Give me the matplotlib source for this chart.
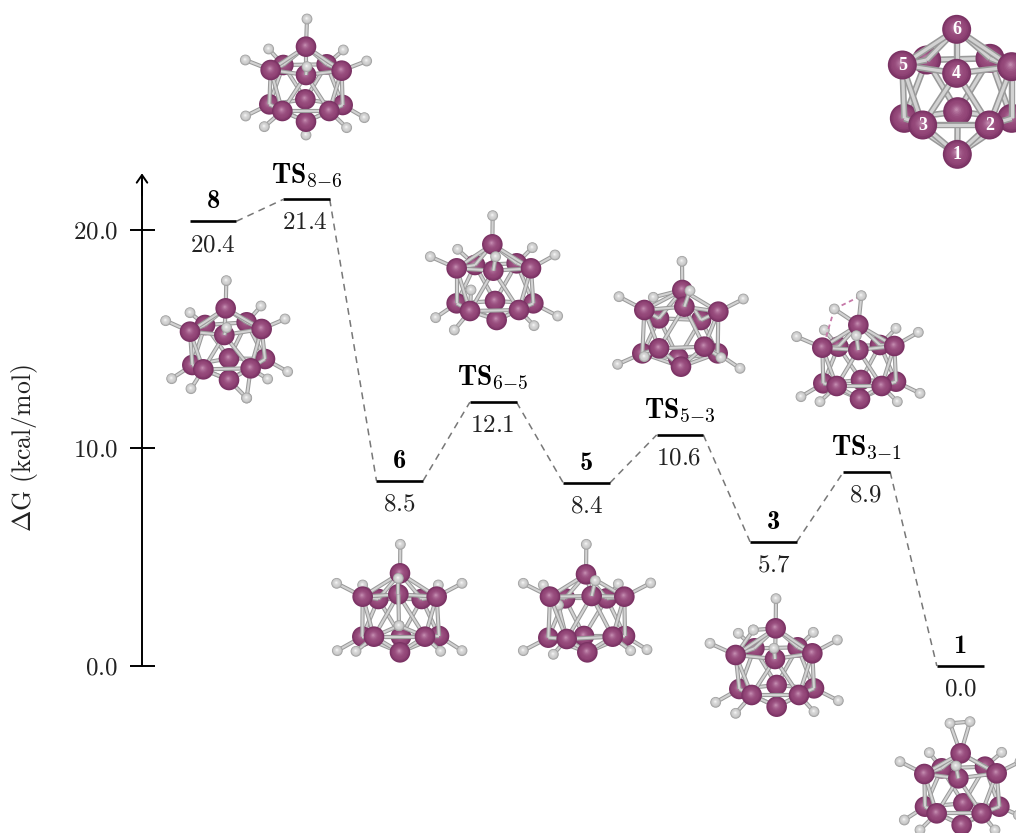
import matplotlib
matplotlib.use('Agg')
import matplotlib.pyplot as plt
from matplotlib.patches import Circle
from matplotlib.colors import to_rgb

plt.rcParams['mathtext.fontset'] = 'cm'
plt.rcParams['font.family'] = ['cmr10', 'DejaVu Serif']
plt.rcParams['axes.unicode_minus'] = False
plt.rcParams['axes.formatter.use_mathtext'] = True

# ---- energy profile data ----
stage_names = ['8', r'$\mathbf{TS}_{8{-}6}$', '6', r'$\mathbf{TS}_{6{-}5}$', '5',
               r'$\mathbf{TS}_{5{-}3}$', '3', r'$\mathbf{TS}_{3{-}1}$', '1']
stage_energy = [20.4, 21.4, 8.5, 12.1, 8.4, 10.6, 5.7, 8.9, 0.0]
tick_values = [0.0, 10.0, 20.0]
tick_labels = ['$0.0$', '$10.0$', '$20.0$']

# ---- molecule sketches: (origin in picture, zoom factor 3 coordinates) ----
# order of cage atoms: T UL UBL UBR UR F LBL LFL CB LFR LBR Bot
T, UL, UBL, UBR, UR, F, LBL, LFL, CB, LFR, LBR, BOT = range(12)
cage_bonds = [(T, UL), (T, UBL), (T, UBR), (T, UR), (T, F), (F, UL), (UL, UBL), (UBL, UBR), (UBR, UR), (UR, F),
              (BOT, LFL), (BOT, LBL), (BOT, CB), (BOT, LBR), (BOT, LFR), (LFL, LBL), (LBL, CB), (CB, LBR),
              (LBR, LFR), (LFR, LFL), (F, LFL), (F, LFR), (UL, LFL), (UL, LBL), (UBL, LBL), (UBL, CB),
              (UBR, CB), (UBR, LBR), (UR, LBR), (UR, LFR)]
cage_depth = [5, 5, 2, 2, 5, 6, 2, 5, 3, 5, 2, 4.5]

mol_ts86 = dict(origin=(230, 5),
    B=[(228,125),(122,195),(160,180),(290,178),(335,197),(228,210),(118,298),(157,318),(226,283),(298,318),(338,300),(228,350)],
    H=[(231,42,T),(46,165,UL),(116,132,UBL),(340,135,UBR),(410,168,UR),(231,185,F),(47,333,LBL),(103,365,LFL),
       (350,368,LFR),(403,338,LBR),(228,390,BOT)])
mol_8 = dict(origin=(130, 160),
    B=[(287,445),(180,515),(225,495),(350,487),(395,507),(283,525),(187,615),(220,628),(297,595),(362,625),(405,597),(297,660)],
    H=[(289,362,T),(107,482,UL),(180,458,UBL),(393,438,UBR),(465,477,UR),(290,503,F),(125,656,LBL),(183,686,LFL),
       (413,657,LFR),(473,635,LBR),(350,714,BOT),(350,714,LFR)])
mol_ts65 = dict(origin=(415, 205),
    B=[(232,118),(125,190),(180,180),(305,175),(348,190),(235,197),(125,295),(165,318),(240,288),(312,315),(355,295),(245,345)],
    H=[(233,32,T),(46,155,UL),(128,133,UBL),(352,128,UBR),(420,150,UR),(242,155,F),(62,338,LBL),(118,375,LFL),
       (357,362,LFR),(428,333,LBR),(168,255,LFL)])
mol_ts53 = dict(origin=(605, 250),
    B=[(232,120),(118,180),(162,205),(288,210),(340,185),(238,170),(112,310),(162,295),(220,325),(298,290),(338,310),(228,350)],
    H=[(231,34,T),(42,140,UL),(145,142,T),(415,147,UR),(255,122,F),(38,343,LBL),(118,320,LFL),(348,323,LFR),(405,355,LBR)])
mol_ts31 = dict(origin=(785, 285),
    B=[(220,120),(112,188),(160,185),(285,180),(328,183),(220,195),(115,295),(155,303),(228,285),(290,303),(333,290),(225,342)],
    H=[(229,32,T),(148,72,T),(35,155,UL),(118,135,UBL),(333,130,UBR),(400,142,UR),(214,152,F),(48,335,LBL),
       (105,350,LFL),(337,350,LFR),(405,325,LBR)],
    dashed=[((148,72),(229,32)),((148,72),(122,160))])
mol_6 = dict(origin=(325, 535),
    B=[(225,115),(113,185),(160,192),(290,192),(335,185),(220,178),(112,305),(147,305),(228,305),(300,305),(342,303),(225,352)],
    H=[(226,28,T),(35,145,UL),(113,150,UBL),(340,150,UBR),(411,145,UR),(220,130,F),(37,347,LBL),(93,349,LFL),
       (222,272,F),(222,272,LFL),(222,272,LFR),(347,349,LFR),(411,347,LBR)])
mol_5 = dict(origin=(510, 535),
    B=[(228,118),(120,185),(165,190),(290,190),(343,185),(245,183),(115,308),(170,312),(222,303),(308,305),(345,303),(232,352)],
    H=[(229,28,T),(40,145,UL),(100,150,UBL),(325,147,UBR),(422,144,UR),(256,137,F),(40,347,LBL),(130,358,LFL),
       (145,210,UL),(145,210,LFL),(362,347,LFR),(411,344,LBR)])
mol_3 = dict(origin=(695, 590),
    B=[(242,115),(122,195),(178,175),(308,172),(352,190),(240,207),(133,297),(170,315),(245,285),(312,315),(357,295),(245,350)],
    H=[(243,26,T),(175,120,T),(175,120,UL),(45,160,UL),(130,130,UBL),(355,127,UBR),(427,150,UR),(237,175,F),
       (62,337,LBL),(122,370,LFL),(357,365,LFR),(430,332,LBR)])
mol_1 = dict(origin=(880, 630),
    B=[(242,370),(133,432),(185,415),(315,410),(350,430),(235,445),(135,530),(170,550),(250,520),(305,550),(358,530),(245,585)],
    H=[(210,280,T),(270,275,T),(60,395,UL),(148,368,UBL),(365,367,UBR),(420,395,UR),(228,408,F),(73,570,LBL),
       (120,600,LFL),(345,600,LFR),(415,555,LBR)],
    hbond=[((210,280),(270,275))])
mol_ref = dict(origin=(870, 10), big=True,
    B=[(260,58),(97,165),(170,150),(360,145),(425,170),(260,190),(103,325),(158,345),(263,305),(358,345),(425,325),(262,433)],
    H=[], labels={T: '6', UL: '5', F: '4', LFL: '3', LFR: '2', BOT: '1'})
molecules = [mol_ts86, mol_8, mol_ts65, mol_ts53, mol_ts31, mol_6, mol_5, mol_3, mol_1, mol_ref]

fig = plt.figure(figsize=(10.16, 8.33), dpi=100)
ax = fig.add_axes([0, 0, 1, 1], facecolor='none')
ax.set_xlim((0 - 213) / 93.4, (1016 - 213) / 93.4)
ax.set_ylim((666 - 833) / 21.8, 666 / 21.8)
axis_x = (142 - 213) / 93.4
for s in ('top', 'right', 'bottom'):
    ax.spines[s].set_visible(False)
ax.spines['left'].set_position(('data', axis_x))
ax.spines['left'].set_bounds(0, 22.4)
ax.spines['left'].set_linewidth(1.4)
ax.set_xticks([])
ax.set_yticks(tick_values)
ax.set_yticklabels(tick_labels, fontsize=18, color='#222222')
ax.tick_params(axis='y', direction='inout', length=18, width=1.4, pad=8)
ax.annotate('', xy=(axis_x, 22.6), xytext=(axis_x, 21.6),
            arrowprops=dict(arrowstyle='->,head_length=0.55,head_width=0.38', lw=1.4, color='black', shrinkA=0, shrinkB=0))
fig.text(25 / 1016, 1 - 448 / 833, r'$\Delta\mathrm{G}\ \mathrm{(kcal/mol)}$', rotation=90,
         ha='center', va='center', fontsize=18.5, color='#222222')

half = 0.25
for i, (name, e) in enumerate(zip(stage_names, stage_energy)):
    ax.plot([i - half, i + half], [e, e], color='black', lw=1.9, solid_capstyle='butt', zorder=3)
    is_ts = name.startswith('$')
    ax.annotate(name, (i, e), xytext=(0, 12 if is_ts else 9.5), textcoords='offset points', ha='center',
                va='baseline', fontsize=20 if is_ts else 19, color='black',
                family='cmr10' if is_ts else 'cmb10')
    ax.annotate(f'${e:.1f}$', (i, e), xytext=(-1 if is_ts else 0, -21.6), textcoords='offset points', ha='center',
                va='baseline', fontsize=18, color='#222222')
for i in range(len(stage_energy) - 1):
    ax.plot([i + half, i + 1 - half], [stage_energy[i], stage_energy[i + 1]], color='#777777', lw=1.1,
            dashes=(4.5, 3.5), zorder=2)

# ---- molecule overlay in picture pixels ----
ov = fig.add_axes([0, 0, 1, 1], facecolor='none')
ov.set_xlim(0, 1016)
ov.set_ylim(833, 0)
ov.axis('off')


def mix(a, b, t):
    a, b = to_rgb(a), to_rgb(b)
    return tuple(x + (y - x) * t for x, y in zip(a, b))


def ball(x, y, r, z, edge, mid, light):
    n = 10
    for k in range(n):
        t = k / (n - 1)
        col = mix(edge, mid, t / 0.3) if t < 0.3 else mix(mid, light, ((t - 0.3) / 0.7) ** 2)
        ov.add_patch(Circle((x - 0.08 * r * t, y - 0.14 * r * t), r * (1 - 0.9 * t), lw=0, fc=col, zorder=z + k * 1e-3))


def stick(p, q, w, z):
    ov.plot([p[0], q[0]], [p[1], q[1]], color='#9a9a9a', lw=w, solid_capstyle='butt', zorder=z)
    ov.plot([p[0], q[0]], [p[1], q[1]], color='#d2d2d2', lw=w * 0.5, solid_capstyle='butt', zorder=z + 5e-4)


for m in molecules:
    ox, oy = m['origin']
    P = lambda c: (ox + c[0] / 3, oy + c[1] / 3)
    big = m.get('big', False)
    R, w = (14.5, 4.6) if big else (10.3, 3.0)
    pts = [P(b) for b in m['B']]
    for a, b in cage_bonds:
        if BOT in (a, b) or CB in (a, b):
            bz = min(cage_depth[a], cage_depth[b])
        else:
            bz = min((cage_depth[a] + cage_depth[b]) / 2, 4.9)
        stick(pts[a], pts[b], w, bz - 0.1)
    for a, p in enumerate(pts):
        ball(p[0], p[1], R, cage_depth[a], '#7a3263', '#934678', '#c189ad')
    for hx, hy, parent in m['H']:
        h = P((hx, hy))
        front = parent == F
        z = 7 if front else cage_depth[parent] - 0.5
        stick(pts[parent], h, w, z - 0.1)
        ball(h[0], h[1], 5.4, z, '#a0a0a0', '#cfcfcf', '#f6f6f6')
    for a, b in m.get('hbond', []):
        stick(P(a), P(b), w, 4.2)
    for a, b in m.get('dashed', []):
        p, q = P(a), P(b)
        ov.plot([p[0], q[0]], [p[1], q[1]], color='#c678a8', lw=1.3, dashes=(2.5, 2), zorder=4.2)
    for a, txt in m.get('labels', {}).items():
        ov.text(pts[a][0], pts[a][1], txt, color='white', fontsize=13, fontweight='bold', family='Liberation Serif',
                ha='center', va='center', zorder=9)

fig.savefig('out.png', dpi=100, facecolor='white')
